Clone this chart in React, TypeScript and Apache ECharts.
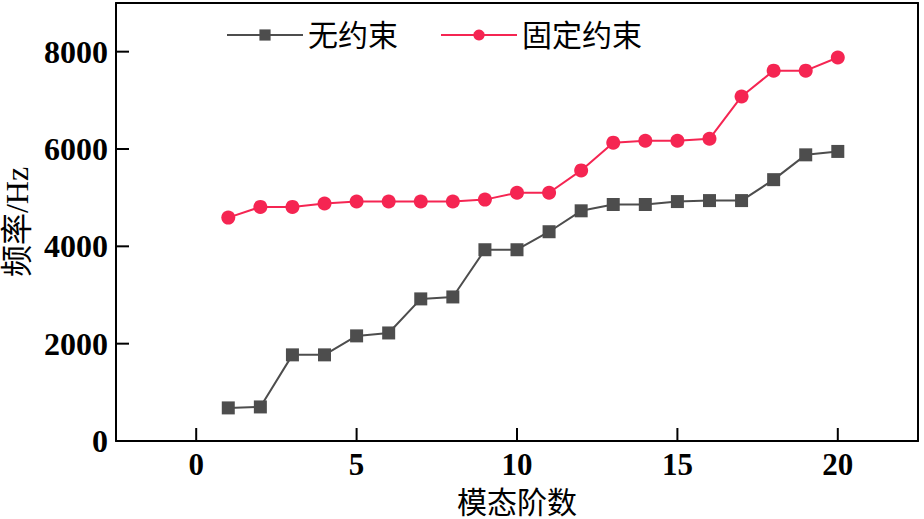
import React, { useEffect, useRef } from "react";
import * as echarts from "echarts";

const modes = [1, 2, 3, 4, 5, 6, 7, 8, 9, 10, 11, 12, 13, 14, 15, 16, 17, 18, 19, 20];
const freeValues = [680, 700, 1770, 1770, 2160, 2220, 2920, 2960, 3930, 3930, 4300, 4730, 4860, 4860, 4920, 4940, 4940, 5370, 5880, 5950];
const fixedValues = [4590, 4810, 4810, 4880, 4920, 4920, 4920, 4920, 4960, 5100, 5100, 5560, 6130, 6170, 6170, 6210, 7080, 7610, 7610, 7880];
const xTicks = [0, 5, 10, 15, 20];
const yTicks = [0, 2000, 4000, 6000, 8000];
const seriesNames = ["无约束", "固定约束"];

const X_MIN = -2.5;
const X_MAX = 22.5;
const Y_MIN = 0;
const Y_MAX = 9000;
const FONT = "'Liberation Serif', 'Noto Sans CJK SC', serif";
const TICK_LEN = 13;

const frameAxisLine = { show: true, onZero: false, lineStyle: { color: "#000", width: 2 } };

export default function App() {
  const ref = useRef<HTMLDivElement>(null);
  useEffect(() => {
    if (!ref.current) return;
    const chart = echarts.init(ref.current, null, { renderer: "svg" });
    chart.setOption({
      animation: false,
      backgroundColor: "#fff",
      textStyle: { fontFamily: FONT },
      grid: {
        left: 116,
        right: 6,
        top: 3,
        bottom: 78,
        show: false,
        containLabel: false,
        outerBoundsMode: "none",
      },
      legend: {
        left: 221,
        top: 15,
        itemWidth: 76,
        itemHeight: 14,
        itemGap: 42,
        textStyle: { fontSize: 30, color: "#000", fontFamily: FONT },
        data: seriesNames,
      },
      xAxis: [
        {
          type: "value",
          min: X_MIN,
          max: X_MAX,
          name: "模态阶数",
          nameLocation: "middle",
          nameGap: 46,
          nameTextStyle: { fontSize: 30, color: "#000", fontFamily: FONT },
          axisLine: frameAxisLine,
          axisTick: { show: false },
          axisLabel: { customValues: xTicks, fontSize: 31, fontWeight: "bold", color: "#000", margin: 8, fontFamily: FONT },
          splitLine: { show: false },
        },
        {
          type: "value",
          position: "top",
          min: X_MIN,
          max: X_MAX,
          axisLine: frameAxisLine,
          axisTick: { show: false },
          axisLabel: { show: false },
          splitLine: { show: false },
        },
      ],
      yAxis: [
        {
          type: "value",
          min: Y_MIN,
          max: Y_MAX,
          name: "频率/Hz",
          nameLocation: "middle",
          nameRotate: 90,
          nameGap: 80,
          nameTextStyle: { fontSize: 32, color: "#000", fontFamily: FONT },
          axisLine: frameAxisLine,
          axisTick: { show: false },
          axisLabel: {
            customValues: yTicks,
            formatter: (v: number) => String(v),
            fontSize: 32,
            fontWeight: "bold",
            color: "#000",
            margin: 8,
            fontFamily: FONT,
          },
          splitLine: { show: false },
        },
        {
          type: "value",
          position: "right",
          min: Y_MIN,
          max: Y_MAX,
          axisLine: frameAxisLine,
          axisTick: { show: false },
          axisLabel: { show: false },
          splitLine: { show: false },
        },
      ],
      series: [
        {
          name: seriesNames[0],
          type: "line",
          data: modes.map((m, i) => [m, freeValues[i]]),
          symbol: "rect",
          symbolSize: 13,
          itemStyle: { color: "#4d4d4d" },
          lineStyle: { color: "#4d4d4d", width: 2 },
          z: 3,
        },
        {
          name: seriesNames[1],
          type: "line",
          data: modes.map((m, i) => [m, fixedValues[i]]),
          symbol: "circle",
          symbolSize: 14,
          itemStyle: { color: "#f52552" },
          lineStyle: { color: "#f52552", width: 2 },
          z: 3,
        },
      ],
    });

    const tickRects: any[] = [];
    xTicks.forEach((v) => {
      const p = chart.convertToPixel({ gridIndex: 0 }, [v, Y_MIN]) as number[];
      tickRects.push({
        type: "rect",
        z: 10,
        shape: { x: p[0] - 1, y: p[1] - TICK_LEN, width: 2, height: TICK_LEN },
        style: { fill: "#000" },
      });
    });
    yTicks
      .filter((v) => v > Y_MIN)
      .forEach((v) => {
        const p = chart.convertToPixel({ gridIndex: 0 }, [X_MIN, v]) as number[];
        tickRects.push({
          type: "rect",
          z: 10,
          shape: { x: p[0], y: p[1] - 1, width: TICK_LEN, height: 2 },
          style: { fill: "#000" },
        });
      });
    chart.setOption({ graphic: { elements: tickRects } });

    return () => chart.dispose();
  }, []);
  return <div ref={ref} style={{ position: "absolute", left: 0, top: 0, width: 924, height: 519 }} />;
}
